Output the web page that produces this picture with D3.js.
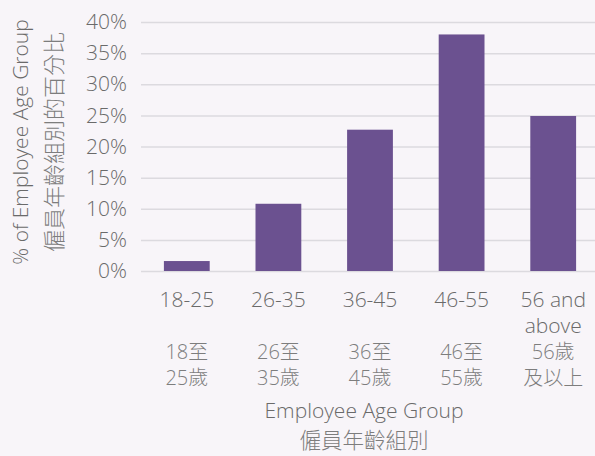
<!DOCTYPE html>
<html>
<head>
<meta charset="utf-8">
<script src="https://cdn.jsdelivr.net/npm/d3@7"></script>
<style>
  body { margin: 0; background: #f8f5f9; }
  text { font-family: "Open Sans", "Noto Sans CJK TC", sans-serif; font-weight: 300; fill: #6a6a6a; }
  text.zh { fill: #7d7d7d; }
</style>
</head>
<body>
<div id="chart"></div>
<script>
// age groups, english + chinese labels
const ageGroups = ['18-25', '26-35', '36-45', '46-55', '56+'];
const enLabels = [['18-25'], ['26-35'], ['36-45'], ['46-55'], ['56 and', 'above']];
const zhLabels = [['18至', '25歲'], ['26至', '35歲'], ['36至', '45歲'], ['46至', '55歲'], ['56歲', '及以上']];
const percents = [1.6, 10.8, 22.7, 38.0, 24.9];
const yTicks = [0, 5, 10, 15, 20, 25, 30, 35, 40];

const chartW = 595, chartH = 456;
const plotLeft = 141, plotRight = 599, plotTop = 22, plotBottom = 271;

const svg = d3.select('#chart').append('svg')
    .attr('width', chartW)
    .attr('height', chartH);

svg.append('rect').attr('width', chartW).attr('height', chartH).attr('fill', '#f8f5f9');

const x = d3.scaleBand()
    .domain(ageGroups)
    .range([plotLeft, plotRight])
    .paddingInner(0.5)
    .paddingOuter(0.25);

const y = d3.scaleLinear()
    .domain([0, 40])
    .range([plotBottom, plotTop]);

// gridlines + y labels
const yAxis = d3.axisLeft(y)
    .tickValues(yTicks)
    .tickSize(-(plotRight - plotLeft))
    .tickPadding(14)
    .tickFormat(d => d + '%');

const gy = svg.append('g')
    .attr('transform', 'translate(' + plotLeft + ',0)')
    .call(yAxis);
gy.select('.domain').remove();
gy.selectAll('.tick line').attr('stroke', '#dcdadf').attr('stroke-width', 1.5);
gy.selectAll('.tick text').attr('font-size', 21).attr('fill', '#6a6a6a')
    .attr('font-family', '"Open Sans", sans-serif').attr('font-weight', 300);

svg.selectAll('rect.bar')
    .data(percents)
    .enter()
    .append('rect')
    .attr('class', 'bar')
    .attr('x', (d, i) => x(ageGroups[i]))
    .attr('y', d => y(d))
    .attr('width', x.bandwidth())
    .attr('height', d => plotBottom - y(d))
    .attr('fill', '#6b5190');

// x labels, english then chinese lines
const lineH = 26;
ageGroups.forEach((g, i) => {
  const lines = enLabels[i].concat(new Array(2 - enLabels[i].length).fill(null)).concat(zhLabels[i]);
  const cx = x(g) + x.bandwidth() / 2;
  lines.forEach((t, j) => {
    if (t === null) return;
    svg.append('text')
      .attr('class', j < 2 ? 'en' : 'zh')
      .attr('x', cx)
      .attr('y', 307 + j * lineH)
      .attr('text-anchor', 'middle')
      .attr('font-size', j < 2 ? 21 : 20)
      .text(t);
  });
});

// axis titles
svg.append('text')
    .attr('x', 364).attr('y', 418)
    .attr('text-anchor', 'middle')
    .attr('font-size', 21)
    .text('Employee Age Group');
svg.append('text')
    .attr('class', 'zh')
    .attr('x', 364).attr('y', 448)
    .attr('text-anchor', 'middle')
    .attr('font-size', 21.5)
    .text('僱員年齡組別');

svg.append('text')
    .attr('transform', 'translate(28,142) rotate(-90)')
    .attr('text-anchor', 'middle')
    .attr('font-size', 21)
    .text('% of Employee Age Group');
svg.append('text')
    .attr('class', 'zh')
    .attr('transform', 'translate(62,142) rotate(-90)')
    .attr('text-anchor', 'middle')
    .attr('font-size', 22)
    .text('僱員年齡組別的百分比');
</script>
</body>
</html>
